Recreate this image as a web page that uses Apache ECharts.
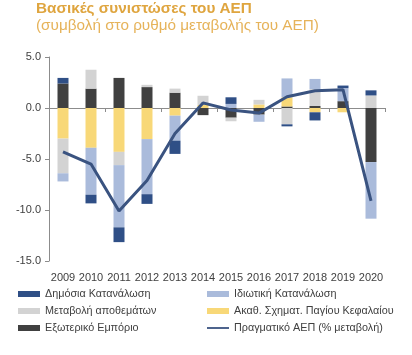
<!DOCTYPE html>
<html>
<head>
<meta charset="utf-8">
<script src="https://cdn.jsdelivr.net/npm/echarts@6/dist/echarts.min.js"></script>
<style>
html,body{margin:0;padding:0;background:#fff;}
#c{width:412px;height:355px;}
</style>
</head>
<body>
<div id="c"></div>
<script>
const years = ['2009','2010','2011','2012','2013','2014','2015','2016','2017','2018','2019','2020'];
const yTicks = [-15, -10, -5, 0, 5];
const publicCons  = [0.55, -0.85, -1.45, -0.95, -1.3, 0, 0.65, 0, -0.2, -0.8, 0.25, 0.5];
const privateCons = [-0.8, -4.6, -6.1, -5.4, -2.45, 0, 0.4, -0.7, 1.85, 1.0, 1.28, -5.55];
const inventories = [-3.4, 1.85, -1.3, 0.22, 0.4, 0.9, -0.35, 0.45, -1.6, 1.65, 0, 1.23];
const gfcf        = [-3.0, -3.9, -4.3, -3.05, -0.75, 0.3, 0, 0.35, 0.9, -0.42, -0.42, 0];
const external    = [2.4, 1.9, 2.95, 2.05, 1.5, -0.7, -0.95, -0.65, 0.15, 0.2, 0.67, -5.3];
const realGdp     = [-4.3, -5.5, -10.1, -7.1, -2.5, 0.5, -0.2, -0.5, 1.1, 1.7, 1.8, -9.1];

const names = {
  pub: 'Δημόσια Κατανάλωση',
  priv: 'Ιδιωτική Κατανάλωση',
  inv: 'Μεταβολή αποθεμάτων',
  gfcf: 'Ακαθ. Σχηματ. Παγίου Κεφαλαίου',
  ext: 'Εξωτερικό Εμπόριο',
  gdp: 'Πραγματικό ΑΕΠ (% μεταβολή)'
};
const colors = {
  pub: '#2F4F86', priv: '#AABBDB', inv: '#D3D3D3', gfcf: '#F8D878', ext: '#404040', gdp: '#3A5380'
};

const chart = echarts.init(document.getElementById('c'), null, {renderer: 'canvas'});
const font = '"Liberation Sans", Arial, sans-serif';

function bar(key, data) {
  return {
    name: names[key], type: 'bar', stack: 'total', data: data,
    barWidth: 11, itemStyle: {color: colors[key]}, xAxisIndex: 0, yAxisIndex: 0
  };
}

const legendText = {fontFamily: font, fontSize: 10.8, color: '#404040', lineHeight: 12};
const lineIcon = 'path://M0,0M0,2.1L22,2.1L22,3.9L0,3.9ZM22,6';

chart.setOption({
  animation: false,
  textStyle: {fontFamily: font},
  title: {
    text: 'Βασικές συνιστώσες του ΑΕΠ',
    subtext: '(συμβολή στο ρυθμό μεταβολής του ΑΕΠ)',
    left: 36, top: 0, itemGap: 0, padding: [1, 0, 0, 0],
    textStyle: {fontFamily: font, fontSize: 15.3, fontWeight: 'bold', color: '#DFA53F', lineHeight: 16},
    subtextStyle: {fontFamily: font, fontSize: 15.3, color: '#E6B35A', lineHeight: 17}
  },
  grid: {left: 49, right: 27, top: 57, bottom: 94, containLabel: false},
  legend: [
    {
      orient: 'vertical', left: 18, top: 288, itemWidth: 22, itemHeight: 6, itemGap: 5,
      textStyle: legendText, padding: 0,
      data: [{name: names.pub, icon: 'rect'}, {name: names.inv, icon: 'rect'}, {name: names.ext, icon: 'rect'}]
    },
    {
      orient: 'vertical', left: 207, top: 288, itemWidth: 22, itemHeight: 6, itemGap: 5,
      textStyle: legendText, padding: 0,
      data: [{name: names.priv, icon: 'rect'}, {name: names.gfcf, icon: 'rect'}, {name: names.gdp, icon: lineIcon}]
    }
  ],
  xAxis: [
    {
      type: 'category', data: years, position: 'bottom',
      axisLine: {onZero: true, lineStyle: {color: '#8C8C8C', width: 1}},
      axisTick: {show: true, length: 4, lineStyle: {color: '#8C8C8C'}},
      axisLabel: {show: false}
    },
    {
      type: 'category', data: years, position: 'bottom',
      axisLine: {show: false, onZero: false},
      axisTick: {show: false},
      axisLabel: {show: true, fontFamily: font, fontSize: 11, color: '#404040', margin: 11, interval: 0}
    }
  ],
  yAxis: {
    type: 'value', min: yTicks[0], max: yTicks[yTicks.length - 1], interval: 5,
    axisLine: {show: true, lineStyle: {color: '#8C8C8C'}},
    axisTick: {show: true, length: 4, lineStyle: {color: '#8C8C8C'}},
    splitLine: {show: false},
    axisLabel: {fontFamily: font, fontSize: 11, color: '#404040', margin: 8,
      formatter: v => v.toFixed(1)}
  },
  series: [
    bar('ext', external),
    bar('gfcf', gfcf),
    bar('inv', inventories),
    bar('priv', privateCons),
    bar('pub', publicCons),
    {
      name: names.gdp, type: 'line', data: realGdp, symbol: 'none',
      lineStyle: {color: colors.gdp, width: 3}, itemStyle: {color: colors.gdp},
      xAxisIndex: 0, yAxisIndex: 0, z: 5
    }
  ]
});
</script>
</body>
</html>
